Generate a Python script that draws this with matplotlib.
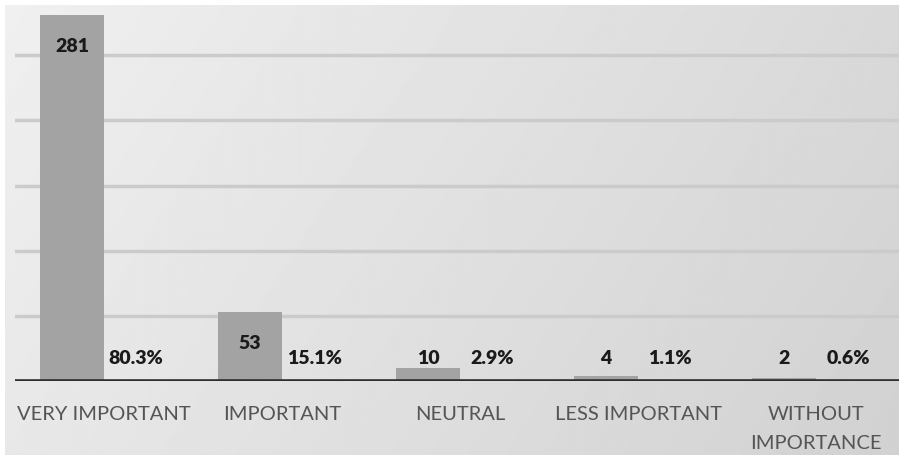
import numpy as np
import matplotlib
matplotlib.use("Agg")
from matplotlib import pyplot as plt

# survey answers: how important is it?
categories = ["VERY IMPORTANT", "IMPORTANT", "NEUTRAL", "LESS IMPORTANT", "WITHOUT\nIMPORTANCE"]
counts = [281, 53, 10, 4, 2]
shares = [0.803, 0.151, 0.029, 0.011, 0.006]
share_labels = ["80.3%", "15.1%", "2.9%", "1.1%", "0.6%"]

plt.rcParams['font.family'] = ['Lato', 'DejaVu Sans']

W, H = 899, 455
fig = plt.figure(figsize=(W / 100, H / 100), dpi=100)
fig.patch.set_facecolor("white")

# grey gradient panel behind the chart
bg = fig.add_axes([5 / W, 0, (W - 5) / W, (H - 5) / H])
bg.set_axis_off()
gx = np.linspace(0, 1, 300)
gy = np.linspace(0, 1, 150)
gxx, gyy = np.meshgrid(gx, gy)
grad = 0.94 - 0.09 * gxx - 0.03 * gyy
bg.imshow(grad, cmap="gray", vmin=0, vmax=1, aspect="auto",
          extent=[0, 1, 0, 1], origin="upper")

base_y = 381
top_y = 5
px_per_unit = 1.303
ax = fig.add_axes([15 / W, (H - base_y) / H, 890 / W, (base_y - top_y) / H])
ax.patch.set_alpha(0)
ax.set_xlim(-0.5, 4.5)
ax.set_ylim(0, (base_y - top_y) / px_per_unit)

x = np.arange(len(categories))
off = 0.18
bw = 0.36
bar_color = "#a3a3a3"
ax.bar(x - off, counts, width=bw, color=bar_color, zorder=2)
ax.bar(x + off, shares, width=bw, color=bar_color, zorder=2)

for g in [50, 100, 150, 200, 250]:
    ax.axhline(g, color="#cbcbcb", lw=2.5, zorder=1)
ax.axhline(0, color="#2e2e2e", lw=2.6, zorder=3)

# labels sit inside the bar top, or at a floor height for short bars
floor = 17.5
for i, c in enumerate(counts):
    ax.text(x[i] - off, max(c - 24, floor), str(c), ha="center", va="center",
            fontsize=14, fontweight="heavy", color="#1a1a1a", zorder=4)
    ax.text(x[i] + off, max(shares[i] - 24, floor), share_labels[i], ha="center",
            va="center", fontsize=14, fontweight="heavy", color="#1a1a1a", zorder=4)

ax.set_xticks(x)
ax.set_xticklabels(categories, fontsize=14.5, color="#555555", linespacing=1.85,
                   va="top")
ax.tick_params(axis="x", length=0, pad=18)
ax.set_yticks([])
for s in ax.spines.values():
    s.set_visible(False)

fig.savefig("out.png", dpi=100)
